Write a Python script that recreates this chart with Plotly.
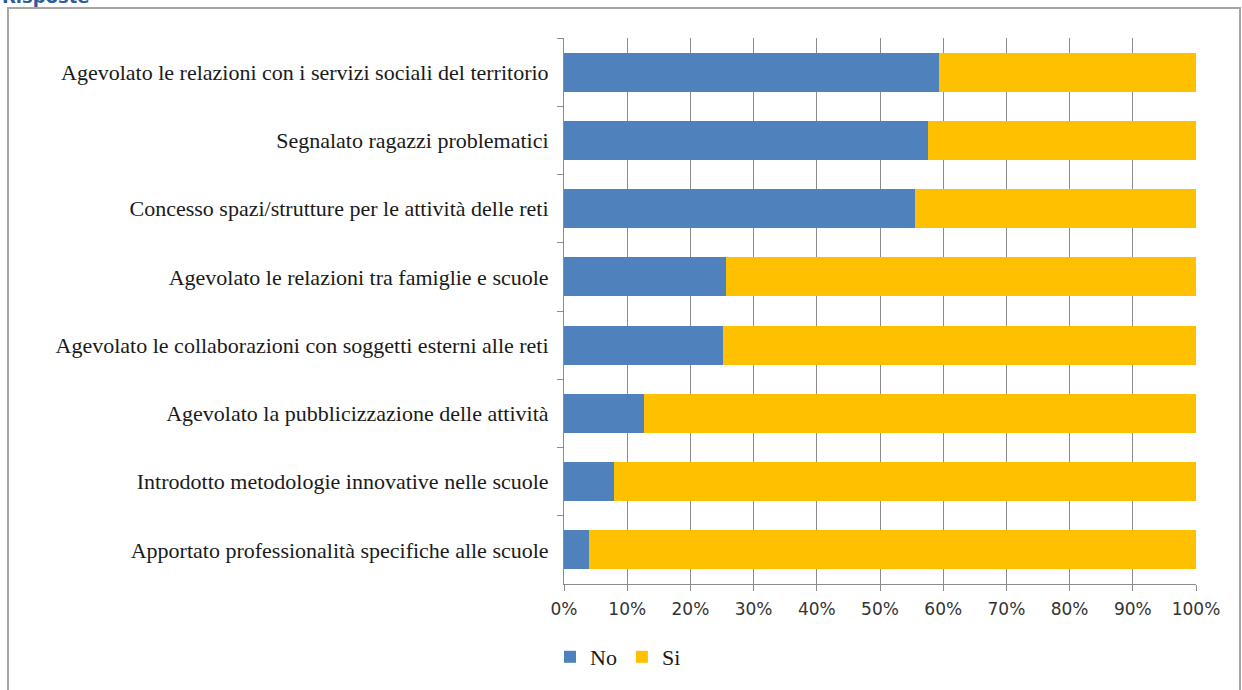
import plotly.graph_objects as go

# Survey answers: share of "No" and "Si" per aspect (percent), top to bottom
categories = [
    "Agevolato le relazioni con i servizi sociali del territorio",
    "Segnalato ragazzi problematici",
    "Concesso spazi/strutture per le attività delle reti",
    "Agevolato le relazioni tra famiglie e scuole",
    "Agevolato le collaborazioni con soggetti esterni alle reti",
    "Agevolato la pubblicizzazione delle attività",
    "Introdotto metodologie innovative nelle scuole",
    "Apportato professionalità specifiche alle scuole",
]
no_values = [59.3, 57.6, 55.5, 25.6, 25.1, 12.7, 7.9, 4.0]
si_values = [40.7, 42.4, 44.5, 74.4, 74.9, 87.3, 92.1, 96.0]
x_tick_values = [0, 10, 20, 30, 40, 50, 60, 70, 80, 90, 100]
x_tick_labels = ["0%", "10%", "20%", "30%", "40%", "50%", "60%", "70%", "80%", "90%", "100%"]

W, H = 1242, 690
L, R, T, B = 564, 46, 38, 106
pw, ph = W - L - R, H - T - B


def px_x(px):
    """Pixel column -> paper x."""
    return (px - L) / pw


def px_y(py):
    """Pixel row (from top) -> paper y."""
    return (H - B - py) / ph


SERIF = "Liberation Serif, Times New Roman, serif"
SANS = "DejaVu Sans, Verdana, sans-serif"
GRID = "#8c8c8c"

fig = go.Figure()
fig.add_trace(go.Bar(y=categories, x=no_values, name="No", orientation="h",
                     marker=dict(color="#4f81bd", line=dict(width=0))))
fig.add_trace(go.Bar(y=categories, x=si_values, name="Si", orientation="h",
                     marker=dict(color="#ffc000", line=dict(width=0))))

fig.update_layout(
    width=W, height=H,
    margin=dict(l=L, r=R, t=T, b=B, autoexpand=False),
    barmode="stack", bargap=0.43,
    paper_bgcolor="white", plot_bgcolor="white",
    xaxis=dict(range=[0, 100], tickvals=x_tick_values, ticktext=x_tick_labels,
               showgrid=True, gridcolor=GRID, gridwidth=1,
               showline=True, linecolor=GRID, linewidth=1,
               ticks="outside", ticklen=6, tickcolor=GRID,
               tickfont=dict(family=SANS, size=17, color="#333333"),
               ticklabelstandoff=4, zeroline=False, fixedrange=True),
    yaxis=dict(autorange="reversed", showgrid=False,
               showline=True, linecolor=GRID, linewidth=1,
               ticks="outside", ticklen=6, tickcolor=GRID, tickson="boundaries",
               tickfont=dict(family=SERIF, size=22, color="#1a1a1a"),
               ticklabelstandoff=10, fixedrange=True),
    legend=dict(orientation="h", traceorder="normal",
                xref="container", yref="container",
                x=550 / W, xanchor="left", y=1 - 657 / H, yanchor="middle",
                font=dict(family=SERIF, size=22, color="#1a1a1a"),
                itemwidth=30, tracegroupgap=0, bgcolor="rgba(0,0,0,0)"),
    showlegend=True,
)

# Outer chart frame
fig.add_shape(type="rect", xref="paper", yref="paper",
              x0=px_x(8), x1=px_x(1240), y0=px_y(720), y1=px_y(8),
              line=dict(color="#a6a6a6", width=2), fillcolor="rgba(0,0,0,0)",
              layer="below")

# Section heading above the frame
fig.add_annotation(text="<b>Risposte</b>", xref="paper", yref="paper",
                   x=px_x(0), xanchor="left", y=px_y(9), yanchor="bottom",
                   showarrow=False,
                   font=dict(family=SANS, size=18, color="#2e5c9a"))

fig.write_html("out.html")
